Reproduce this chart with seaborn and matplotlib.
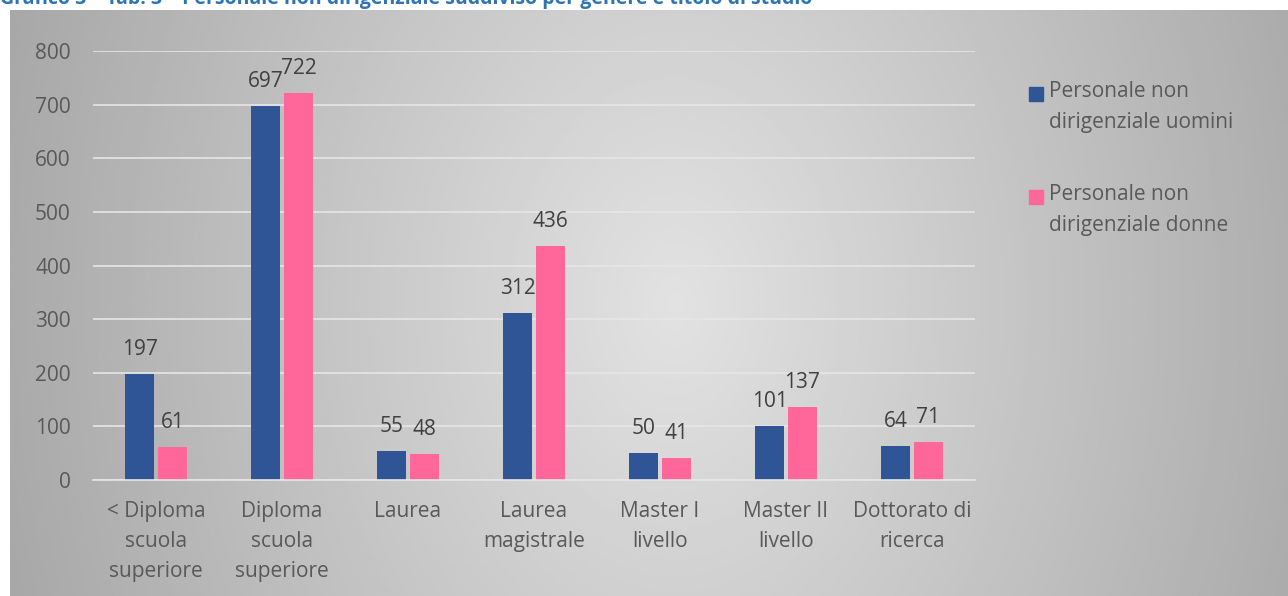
import numpy as np
import pandas as pd
import matplotlib.pyplot as plt
import seaborn as sns
from matplotlib.patches import Rectangle

# data
categorie = ['< Diploma\nscuola\nsuperiore', 'Diploma\nscuola\nsuperiore', 'Laurea',
             'Laurea\nmagistrale', 'Master I\nlivello', 'Master II\nlivello', 'Dottorato di\nricerca']
uomini = [197, 697, 55, 312, 50, 101, 64]
donne = [61, 722, 48, 436, 41, 137, 71]
serie = ['Personale non\ndirigenziale uomini', 'Personale non\ndirigenziale donne']
colori = ['#2F5597', '#FF6699']

df = pd.DataFrame({'categoria': categorie * 2,
                   'valore': uomini + donne,
                   'serie': [serie[0]] * len(categorie) + [serie[1]] * len(categorie)})

sns.set_style('white')
plt.rcParams['font.family'] = ['Open Sans', 'DejaVu Sans']
grigio = '#595959'

fig = plt.figure(figsize=(12.88, 5.96), dpi=100)
fig.patch.set_facecolor('white')

# gradient background of the chart area (light in the middle, darker at the sides)
bg = fig.add_axes([10 / 1288, 0, 1 - 10 / 1288, 1 - 10 / 596], zorder=-5)
xx, yy = np.meshgrid(np.linspace(0, 1, 400), np.linspace(0, 1, 200))
d = np.sqrt(((xx - 0.52) / 0.5) ** 2 + ((yy - 0.5) / 1.5) ** 2)
shade = np.clip(0.886 - 0.21 * d, 0.66, 0.886)
bg.imshow(shade, cmap='gray', vmin=0, vmax=1, aspect='auto', extent=[0, 1, 1, 0])
bg.axis('off')

ax = fig.add_axes([93 / 1288, 1 - 480 / 596, (975 - 93) / 1288, (480 - 51) / 596])
ax.patch.set_alpha(0)
sns.barplot(data=df, x='categoria', y='valore', hue='serie', palette=colori,
            width=0.52, gap=0.12, ax=ax, saturation=1, linewidth=0, legend=False)

for cont in ax.containers:
    ax.bar_label(cont, padding=10, fontsize=15, color='#404040')

ax.set_ylim(0, 800)
ax.set_yticks(range(0, 801, 100))
ax.yaxis.grid(True, color='#e6e6e6', linewidth=1.2)
ax.set_axisbelow(True)
for s in ['top', 'right', 'left']:
    ax.spines[s].set_visible(False)
ax.spines['bottom'].set_color('#e6e6e6')
ax.spines['bottom'].set_linewidth(1.2)
ax.tick_params(axis='both', length=0, labelsize=15, labelcolor=grigio)
ax.tick_params(axis='y', pad=16)
ax.tick_params(axis='x', pad=15)
ax.set_xlabel('')
ax.set_ylabel('')
for t in ax.get_xticklabels():
    t.set_linespacing(1.58)

# legend: square aligned with the first line of each label
for i, (lab, col) in enumerate(zip(serie, colori)):
    ytop = 1 - (87 + i * 103) / 596
    fig.patches.append(Rectangle((1029 / 1288, ytop - 14 / 596), 14 / 1288, 14 / 596,
                                 transform=fig.transFigure, color=col))
    fig.text(1049 / 1288, ytop + 6 / 596, lab, fontsize=15, color=grigio,
             va='top', ha='left', linespacing=1.6)

fig.text(0, 1 - 4 / 596, 'Grafico 3 – Tab. 3 – Personale non dirigenziale suddiviso per genere e titolo di studio',
         color='#2E74B5', fontsize=14, fontweight='bold', va='baseline')

fig.savefig('out.png', dpi=100)
